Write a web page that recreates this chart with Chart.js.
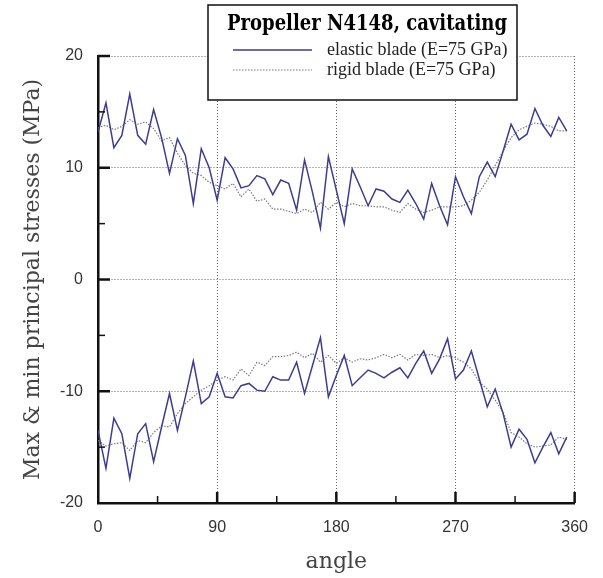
<!DOCTYPE html>
<html>
<head>
<meta charset="utf-8">
<script src="https://cdn.jsdelivr.net/npm/chart.js@4.4.1/dist/chart.umd.min.js"></script>
<style>
  html, body { margin: 0; padding: 0; background: #fff; }
</style>
</head>
<body>
<canvas id="chart" width="603" height="578"></canvas>
<script>
// angle positions (deg)
const angles = [0, 6, 12, 18, 24, 30, 36, 42, 48, 54, 60, 66, 72, 78, 84, 90, 96, 102, 108, 114,
  120, 126, 132, 138, 144, 150, 156, 162, 168, 174, 180, 186, 192, 198, 204, 210, 216, 222, 228, 234,
  240, 246, 252, 258, 264, 270, 276, 282, 288, 294, 300, 306, 312, 318, 324, 330, 336, 342, 348, 354];

// elastic blade, max / min principal stress (MPa)
const elasticMax = [13.2, 15.8, 11.8, 12.9, 16.6, 12.9, 12.1, 15.2, 12.7, 9.5, 12.6, 11.1, 6.8, 11.7, 10.0, 7.1, 10.9, 9.9, 8.2, 8.4,
  9.3, 9.0, 7.6, 8.9, 8.6, 6.2, 10.7, 7.8, 4.6, 11.0, 8.0, 5.0, 9.9, 8.3, 6.6, 8.1, 7.9, 7.2, 6.9, 8.0,
  6.8, 5.4, 8.6, 6.6, 4.9, 9.2, 7.4, 5.9, 9.2, 10.5, 9.2, 11.5, 13.9, 12.5, 13.0, 15.3, 13.8, 12.8, 14.5, 13.3];
const elasticMin = [-13.5, -16.9, -12.4, -13.8, -17.8, -13.8, -12.9, -16.3, -13.2, -10.2, -13.5, -10.5, -7.3, -11.1, -10.5, -8.4, -10.5, -10.6, -9.5, -9.3,
  -9.9, -10.0, -8.7, -9.0, -9.0, -7.4, -10.2, -7.7, -5.2, -10.5, -8.6, -6.8, -9.5, -8.8, -8.1, -8.4, -8.8, -8.3, -7.9, -8.8,
  -7.5, -6.4, -8.4, -7.1, -5.3, -8.9, -8.1, -6.4, -8.9, -11.4, -9.8, -12.0, -15.0, -13.4, -14.3, -16.4, -15.0, -13.7, -15.6, -14.1];

// rigid blade, max / min principal stress (MPa)
const rigidMax = [13.6, 13.8, 13.4, 13.7, 14.3, 13.9, 14.1, 13.5, 12.4, 12.7, 11.3, 10.2, 9.5, 9.3, 8.7, 8.4, 8.1, 8.6, 7.4, 8.1,
  7.0, 7.2, 6.3, 6.3, 6.1, 5.9, 6.3, 6.0, 6.9, 6.3, 6.9, 6.5, 6.8, 6.6, 6.6, 6.5, 6.5, 6.2, 6.0, 6.8,
  6.3, 6.0, 6.2, 6.5, 6.5, 6.5, 6.6, 7.1, 7.8, 8.9, 10.2, 11.5, 12.7, 13.4, 13.7, 14.0, 13.9, 13.7, 13.3, 13.3];
const rigidMin = [-14.4, -14.9, -14.7, -14.6, -15.3, -14.4, -14.6, -13.7, -13.1, -13.2, -12.0, -11.1, -10.5, -9.9, -9.5, -9.0, -8.7, -9.0, -8.0, -8.6,
  -7.4, -7.7, -6.9, -6.9, -6.8, -6.5, -7.0, -6.6, -7.4, -6.8, -7.5, -7.0, -7.4, -7.1, -7.2, -7.0, -6.7, -7.0, -6.7, -7.2,
  -6.7, -6.8, -6.7, -7.0, -6.8, -7.0, -7.4, -8.0, -9.2, -9.8, -10.8, -11.9, -13.7, -14.1, -14.7, -15.0, -14.9, -14.8, -14.1, -14.3];

const seriesLabels = ['elastic blade (E=75 GPa)', 'rigid blade (E=75 GPa)'];
const chartTitle = 'Propeller N4148, cavitating';
const xTitle = 'angle';
const yTitle = 'Max & min principal stresses (MPa)';

// max curve, a gap, then min curve in one dataset
function curve(maxVals, minVals) {
  const pts = angles.map((a, i) => ({ x: a, y: maxVals[i] }));
  pts.push({ x: 357, y: null });
  return pts.concat(angles.map((a, i) => ({ x: a, y: minVals[i] })));
}

const AXIS = '#111';
const GRID = '#666';

// inward tick marks, majors on ticks and minors half way
const innerTicks = {
  id: 'innerTicks',
  afterDatasetsDraw(chart) {
    const { ctx, chartArea: a, scales: { x, y } } = chart;
    ctx.save();
    ctx.strokeStyle = AXIS;
    for (let v = 45; v <= 360; v += 45) {
      const px = x.getPixelForValue(v);
      const major = v % 90 === 0;
      ctx.lineWidth = major ? 2.5 : 1.5;
      ctx.beginPath();
      ctx.moveTo(px, a.bottom);
      ctx.lineTo(px, a.bottom - (major ? 11 : 7));
      ctx.stroke();
    }
    for (let v = -15; v <= 20; v += 5) {
      const py = y.getPixelForValue(v);
      const major = v % 10 === 0;
      ctx.lineWidth = major ? 2.5 : 1.5;
      ctx.beginPath();
      ctx.moveTo(a.left, py);
      ctx.lineTo(a.left + (major ? 12 : 7), py);
      ctx.stroke();
    }
    ctx.restore();
  }
};

// boxed legend with title, drawn over the plot
const boxLegend = {
  id: 'boxLegend',
  afterDraw(chart) {
    const ctx = chart.ctx;
    const bx = 208, by = 5, bw = 309, bh = 95;
    ctx.save();
    ctx.fillStyle = '#fff';
    ctx.fillRect(bx, by, bw, bh);
    ctx.strokeStyle = '#111';
    ctx.lineWidth = 1.5;
    ctx.strokeRect(bx, by, bw, bh);

    ctx.fillStyle = '#000';
    ctx.textAlign = 'center';
    ctx.textBaseline = 'middle';
    ctx.font = 'bold 22px "DejaVu Serif"';
    ctx.fillText(chartTitle, 367, 24, 280);

    ctx.font = '18px "Liberation Serif"';
    ctx.textAlign = 'left';
    chart.data.datasets.forEach((ds, i) => {
      const ly = 50 + i * 20;
      ctx.strokeStyle = ds.borderColor;
      ctx.lineWidth = ds.borderWidth;
      ctx.setLineDash(ds.borderDash || []);
      ctx.beginPath();
      ctx.moveTo(233, ly);
      ctx.lineTo(312, ly);
      ctx.stroke();
      ctx.setLineDash([]);
      ctx.fillStyle = '#222';
      ctx.fillText(ds.label, 327, ly);
    });
    ctx.restore();
  }
};

new Chart(document.getElementById('chart'), {
  type: 'line',
  data: {
    datasets: [
      { label: seriesLabels[0], data: curve(elasticMax, elasticMin), borderColor: '#3d3d8f', borderWidth: 1.5, pointRadius: 0, spanGaps: false, tension: 0 },
      { label: seriesLabels[1], data: curve(rigidMax, rigidMin), borderColor: '#7a7a7a', borderWidth: 1.2, borderDash: [1.5, 1.5], pointRadius: 0, spanGaps: false, tension: 0 }
    ]
  },
  options: {
    responsive: false,
    animation: false,
    layout: { padding: { top: 56, right: 15, left: 0, bottom: 0 } },
    plugins: { legend: { display: false }, tooltip: { enabled: false } },
    scales: {
      x: {
        type: 'linear', min: 0, max: 360,
        afterFit: s => { s.height = 75; },
        ticks: { stepSize: 90, padding: 15, color: '#333', font: { family: 'Liberation Sans', size: 16 } },
        grid: { drawTicks: false, lineWidth: 1, color: c => c.tick && c.tick.value === 0 ? 'rgba(0,0,0,0)' : GRID },
        border: { color: AXIS, width: 2.5, dash: [1, 2] },
        title: { display: true, text: xTitle, color: '#444', font: { family: 'DejaVu Serif', size: 22 }, padding: { top: 0, bottom: 3 } }
      },
      y: {
        min: -20, max: 20,
        afterFit: s => { s.width = 98; },
        ticks: { stepSize: 10, padding: 15, color: '#333', font: { family: 'Liberation Sans', size: 16 } },
        grid: { drawTicks: false, lineWidth: 1, color: c => c.tick && c.tick.value === -20 ? 'rgba(0,0,0,0)' : GRID },
        border: { color: AXIS, width: 2.5, dash: [1, 2] },
        title: { display: true, text: yTitle, color: '#444', font: { family: 'DejaVu Serif', size: 22 }, padding: { top: 20, bottom: 0 } }
      }
    }
  },
  plugins: [innerTicks, boxLegend]
});
</script>
</body>
</html>
